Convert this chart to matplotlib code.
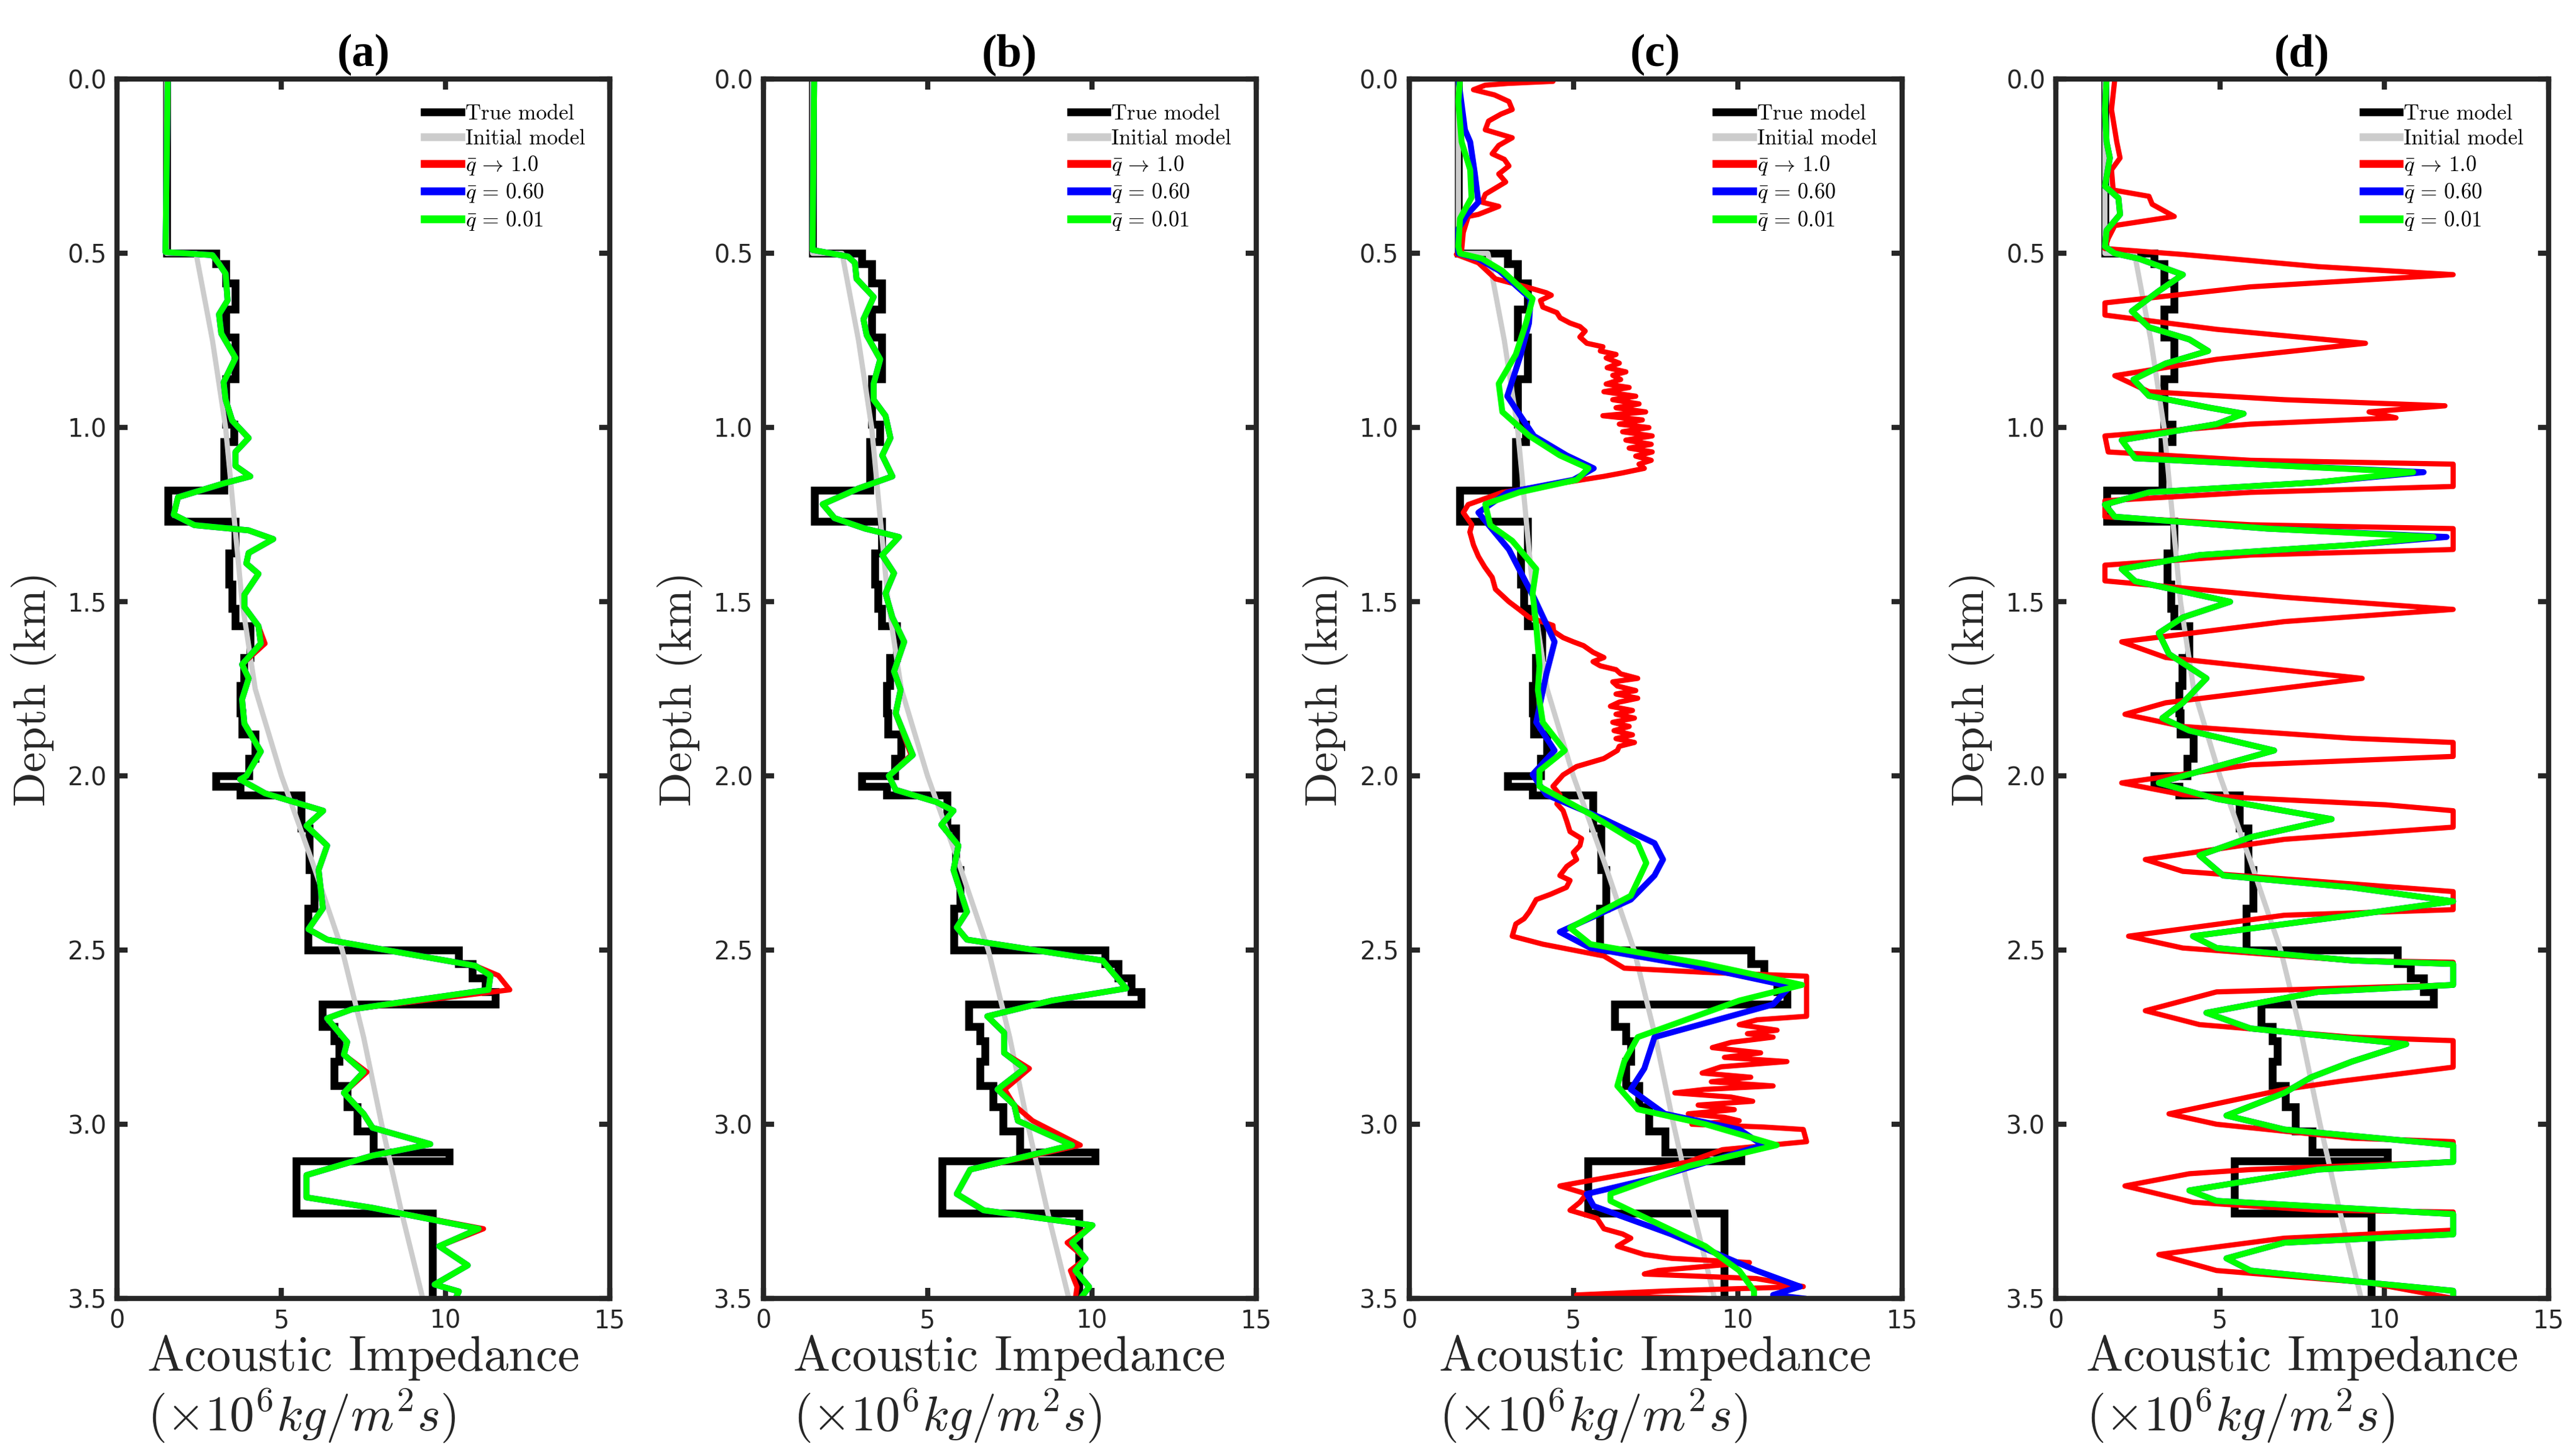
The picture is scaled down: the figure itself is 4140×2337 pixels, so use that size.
import matplotlib
matplotlib.use("Agg")
import matplotlib.pyplot as plt

# ---- data (depth in km, impedance in 1e6 kg/m^2 s) ----
TRUE_EDGES = [0, 0.5, 0.53, 0.585, 0.66, 0.74, 0.86, 0.99, 1.04, 1.18, 1.27, 1.36, 1.45,
              1.52, 1.57, 1.66, 1.74, 1.82, 1.88, 1.95, 2.0, 2.03, 2.055, 2.15, 2.27, 2.38,
              2.5, 2.54, 2.58, 2.62, 2.655, 2.72, 2.76, 2.82, 2.89, 2.95, 3.02, 3.08, 3.105,
              3.255, 3.5]
TRUE_AI = [1.5, 3.0, 3.3, 3.6, 3.3, 3.6, 3.3, 3.55, 3.25, 1.55, 3.6, 3.4, 3.5, 3.6, 4.05,
           3.85, 3.75, 3.8, 4.2, 4.0, 3.0, 3.75, 5.6, 5.85, 6.0, 5.8, 10.4, 10.8, 11.2, 11.5,
           6.25, 6.6, 6.75, 6.6, 7.0, 7.3, 7.8, 10.1, 5.45, 9.6]

INIT_D = [0, 0.5, 0.5, 0.75, 1.0, 1.25, 1.5, 1.75, 2.0, 2.25, 2.5, 2.75, 3.0, 3.25, 3.5]
INIT_V = [1.5, 1.5, 2.4, 2.9, 3.3, 3.55, 3.8, 4.2, 5.0, 5.95, 6.85, 7.5, 8.05, 8.65, 9.3]

# panel (a)
A_D = [0, 0.496, 0.505, 0.53, 0.558, 0.635, 0.675, 0.73, 0.80, 0.87, 0.92, 0.98, 1.03, 1.07,
       1.11, 1.14, 1.16, 1.20, 1.25, 1.28, 1.295, 1.32, 1.36, 1.39, 1.42, 1.48, 1.515, 1.57,
       1.62, 1.68, 1.72, 1.78, 1.85, 1.93, 2.0, 2.01, 2.05, 2.10, 2.143, 2.20, 2.27, 2.38,
       2.44, 2.47, 2.545, 2.573, 2.614, 2.67, 2.696, 2.764, 2.80, 2.85, 2.91, 2.97, 3.01,
       3.057, 3.09, 3.146, 3.21, 3.24, 3.30, 3.35, 3.405, 3.46, 3.48, 3.5]
A_GREEN = [1.54, 1.47, 2.9, 3.1, 3.3, 3.36, 3.1, 3.17, 3.6, 3.24, 3.3, 3.5, 4.0, 3.6, 3.6,
           4.05, 3.25, 1.85, 1.72, 2.35, 4.0, 4.75, 4.0, 3.93, 4.3, 3.87, 3.87, 4.3, 4.37,
           3.8, 4.0, 3.8, 3.87, 4.37, 3.93, 3.74, 4.5, 6.27, 5.76, 6.39, 6.13, 6.26, 5.82,
           6.39, 10.9, 11.36, 11.3, 7.14, 6.39, 7.0, 6.9, 7.5, 6.9, 7.5, 7.77, 9.53, 7.77,
           5.76, 5.76, 7.77, 11.0, 9.8, 10.67, 9.66, 10.4, 10.3]
A_RED = [1.54, 1.47, 2.9, 3.1, 3.3, 3.36, 3.1, 3.17, 3.6, 3.24, 3.3, 3.5, 4.0, 3.6, 3.6,
         4.05, 3.25, 1.85, 1.72, 2.35, 4.0, 4.75, 4.0, 3.93, 4.3, 3.87, 3.87, 4.3, 4.5,
         3.8, 4.0, 3.8, 3.87, 4.37, 3.93, 3.74, 4.5, 6.27, 5.76, 6.39, 6.13, 6.26, 5.82,
         6.39, 10.9, 11.6, 11.95, 7.14, 6.39, 7.0, 6.9, 7.6, 6.9, 7.5, 7.77, 9.53, 7.77,
         5.76, 5.76, 7.77, 11.15, 9.8, 10.67, 9.66, 10.4, 10.3]

# panel (b)
B_D = [0, 0.49, 0.509, 0.527, 0.573, 0.625, 0.689, 0.735, 0.804, 0.874, 0.92, 0.966, 1.03,
       1.08, 1.14, 1.175, 1.22, 1.26, 1.29, 1.314, 1.366, 1.418, 1.476, 1.545, 1.615, 1.70,
       1.753, 1.82, 1.94, 2.0, 2.04, 2.075, 2.1, 2.14, 2.2, 2.27, 2.39, 2.435, 2.47, 2.53,
       2.565, 2.61, 2.645, 2.69, 2.737, 2.795, 2.84, 2.9, 2.945, 2.99, 3.06, 3.13, 3.2,
       3.247, 3.29, 3.34, 3.386, 3.42, 3.467, 3.5]
B_GREEN = [1.55, 1.5, 2.58, 2.79, 2.84, 3.36, 3.05, 3.15, 3.56, 3.36, 3.36, 3.72, 3.87, 3.62,
           3.93, 2.89, 1.81, 2.17, 3.1, 4.13, 3.62, 3.98, 3.72, 3.93, 4.29, 3.98, 4.18, 4.03,
           4.55, 3.82, 4.03, 5.27, 5.79, 5.42, 5.94, 5.79, 6.2, 5.89, 6.2, 10.33, 10.64,
           11.05, 8.78, 6.82, 7.33, 7.33, 7.95, 7.13, 7.64, 7.75, 9.4, 6.3, 5.89, 6.71, 10.02,
           9.4, 9.81, 9.5, 9.92, 9.66]
B_RED = [1.55, 1.5, 2.58, 2.79, 2.84, 3.36, 3.05, 3.15, 3.56, 3.36, 3.36, 3.72, 3.87, 3.62,
         3.93, 2.89, 1.81, 2.17, 3.1, 4.13, 3.62, 3.98, 3.72, 3.93, 4.29, 3.98, 4.18, 4.03,
         4.5, 3.82, 4.03, 5.27, 5.79, 5.42, 5.94, 5.79, 6.2, 5.89, 6.2, 10.33, 10.64,
         11.05, 8.78, 6.82, 7.33, 7.33, 8.1, 7.35, 7.64, 8.2, 9.65, 6.3, 5.89, 6.71, 10.02,
         9.25, 9.81, 9.35, 9.55, 9.5]

# panel (c)
C_GREEN_D = [0, 0.064, 0.18, 0.26, 0.34, 0.40, 0.48, 0.50, 0.515, 0.55, 0.63, 0.70, 0.79,
             0.874, 0.955, 1.024, 1.08, 1.117, 1.15, 1.186, 1.22, 1.28, 1.325, 1.406, 1.476,
             1.568, 1.684, 1.753, 1.846, 1.927, 1.985, 2.03, 2.11, 2.193, 2.25, 2.344, 2.436,
             2.483, 2.54, 2.60, 2.645, 2.75, 2.82, 2.89, 2.957, 3.0, 3.06, 3.12, 3.2, 3.22,
             3.258, 3.35, 3.42, 3.478, 3.5]
C_GREEN = [1.55, 1.5, 1.6, 1.86, 1.9, 1.55, 1.5, 1.55, 2.22, 2.84, 3.76, 3.56, 3.25, 2.73,
           2.84, 3.66, 4.59, 5.46, 5.1, 3.35, 2.32, 2.47, 3.14, 3.87, 3.76, 3.87, 3.97, 3.92,
           4.07, 4.74, 3.97, 3.97, 5.52, 6.96, 7.22, 6.75, 4.9, 5.52, 9.02, 11.96, 10.05,
           6.96, 6.55, 6.34, 6.96, 9.02, 11.19, 8.5, 6.13, 6.13, 6.96, 9.02, 10.05, 10.5, 10.5]
C_BLUE_D = [0, 0.145, 0.18, 0.27, 0.353, 0.39, 0.43, 0.5, 0.515, 0.55, 0.63, 0.70, 0.79,
            0.91, 1.024, 1.08, 1.117, 1.15, 1.186, 1.244, 1.35, 1.49, 1.615, 1.707, 1.846,
            1.927, 1.996, 2.054, 2.124, 2.193, 2.24, 2.286, 2.355, 2.448, 2.494, 2.552, 2.604,
            2.656, 2.75, 2.84, 2.9, 2.97, 3.015, 3.06, 3.154, 3.2, 3.235, 3.316, 3.42, 3.466,
            3.49, 3.5]
C_BLUE = [1.5, 1.7, 1.86, 2.0, 2.11, 1.75, 1.5, 1.5, 2.1, 2.75, 3.7, 3.65, 3.4, 2.99, 3.8,
          4.8, 5.62, 5.0, 3.0, 2.11, 3.04, 3.81, 4.43, 4.18, 3.87, 4.43, 3.76, 4.18, 5.93,
          7.47, 7.73, 7.47, 6.75, 4.59, 5.52, 9.02, 11.6, 11.08, 7.47, 7.16, 6.75, 7.78,
          10.05, 10.77, 7.47, 5.41, 5.62, 7.99, 10.57, 11.9, 11.08, 12.0]
C_RED_D = [0.0, 0.006, 0.012, 0.017, 0.03, 0.045, 0.064, 0.087, 0.1, 0.12,
           0.145, 0.168, 0.19, 0.214, 0.23, 0.249, 0.272, 0.295, 0.33, 0.353,
           0.365, 0.388, 0.394, 0.44, 0.49, 0.503, 0.527, 0.573, 0.596, 0.613,
           0.62, 0.635, 0.654, 0.67, 0.685, 0.70, 0.71, 0.723, 0.74, 0.758,
           0.768, 0.78, 0.79, 0.80, 0.815, 0.828, 0.84, 0.85, 0.862, 0.875,
           0.885, 0.897, 0.91, 0.92, 0.932, 0.943, 0.955, 0.966, 0.978, 0.99,
           1.0, 1.012, 1.024, 1.036, 1.048, 1.059, 1.07, 1.082, 1.094, 1.105,
           1.117, 1.13, 1.14, 1.163, 1.186, 1.221, 1.244, 1.279, 1.3, 1.337,
           1.37, 1.4, 1.43, 1.464, 1.5, 1.522, 1.545, 1.568, 1.585, 1.603,
           1.615, 1.626, 1.645, 1.66, 1.672, 1.684, 1.695, 1.707, 1.72, 1.73,
           1.742, 1.755, 1.765, 1.777, 1.788, 1.8, 1.812, 1.823, 1.834, 1.846,
           1.858, 1.87, 1.882, 1.893, 1.904, 1.915, 1.927, 1.95, 1.973, 1.997,
           2.03, 2.054, 2.08, 2.1, 2.13, 2.16, 2.18, 2.2, 2.22, 2.24,
           2.26, 2.286, 2.3, 2.32, 2.34, 2.355, 2.39, 2.41, 2.425, 2.46,
           2.483, 2.5, 2.517, 2.552, 2.564, 2.575, 2.69, 2.70, 2.714, 2.73,
           2.74, 2.75, 2.765, 2.78, 2.795, 2.808, 2.82, 2.835, 2.853, 2.865,
           2.878, 2.89, 2.9, 2.91, 2.922, 2.934, 2.945, 2.958, 2.97, 2.98,
           2.99, 3.0, 3.008, 3.015, 3.05, 3.073, 3.108, 3.137, 3.177, 3.2,
           3.224, 3.247, 3.27, 3.3, 3.315, 3.327, 3.35, 3.374, 3.385, 3.397,
           3.42, 3.43, 3.443, 3.466, 3.478, 3.49, 3.5]
C_RED = [4.4, 4.38, 3.0, 2.32, 1.96, 2.6, 3.04, 3.14, 2.8, 2.42,
         2.32, 3.14, 2.73, 2.53, 2.9, 3.04, 2.73, 2.94, 2.32, 2.22,
         2.73, 2.11, 1.8, 1.65, 1.6, 1.44, 2.11, 2.63, 3.56, 4.18,
         4.33, 4.0, 4.07, 4.5, 4.6, 4.9, 5.2, 5.36, 5.2, 5.41,
         5.9, 5.82, 6.3, 6.0, 6.4, 6.03, 6.6, 6.2, 6.44, 6.0,
         6.7, 5.93, 6.9, 6.2, 7.0, 6.3, 7.2, 5.9, 7.1, 6.4,
         7.3, 6.5, 7.4, 6.6, 7.37, 6.7, 7.4, 6.9, 7.37, 7.0,
         7.16, 6.5, 5.93, 4.38, 2.84, 1.8, 1.65, 1.91, 1.85, 1.96,
         2.11, 2.3, 2.53, 2.63, 3.04, 3.35, 3.66, 4.38, 4.4, 4.69,
         5.0, 5.31, 5.6, 5.93, 5.6, 5.82, 6.3, 6.44, 6.96, 6.2,
         6.34, 6.9, 6.3, 6.96, 6.4, 6.13, 6.8, 6.3, 6.86, 6.2,
         6.7, 6.24, 6.8, 6.3, 6.86, 6.4, 6.34, 5.93, 5.1, 4.69,
         4.38, 4.59, 4.5, 4.69, 4.8, 4.9, 5.25, 5.2, 5.0, 5.1,
         4.8, 4.59, 4.9, 4.79, 4.3, 3.87, 3.66, 3.5, 3.25, 3.14,
         4.07, 5.0, 5.93, 6.55, 9.02, 12.1, 12.1, 10.6, 10.05, 11.2,
         10.3, 11.08, 9.8, 9.23, 10.7, 9.6, 11.5, 9.5, 8.92, 10.4,
         9.2, 11.08, 9.0, 8.09, 9.8, 10.46, 8.8, 9.9, 8.5, 9.6,
         10.05, 8.61, 10.8, 12.0, 12.1, 9.54, 8.5, 6.96, 4.59, 5.4,
         5.2, 4.9, 5.72, 5.93, 6.5, 6.75, 6.34, 7.16, 7.99, 10.36,
         7.58, 7.16, 10.57, 12.0, 7.99, 5.1, 9.0]

# panel (d)
D_GREEN_D = [0, 0.087, 0.18, 0.226, 0.307, 0.341, 0.388, 0.434, 0.48, 0.50, 0.515, 0.561,
             0.608, 0.666, 0.712, 0.747, 0.78, 0.816, 0.862, 0.909, 0.943, 0.96, 0.99, 1.036,
             1.088, 1.105, 1.128, 1.157, 1.186, 1.221, 1.256, 1.29, 1.314, 1.337, 1.366,
             1.406, 1.441, 1.5, 1.545, 1.59, 1.65, 1.72, 1.79, 1.834, 1.87, 1.927, 1.973,
             2.02, 2.066, 2.124, 2.176, 2.228, 2.286, 2.32, 2.36, 2.4, 2.46, 2.494, 2.53,
             2.54, 2.6, 2.62, 2.68, 2.725, 2.77, 2.82, 2.865, 2.91, 2.975, 3.015, 3.06, 3.108,
             3.13, 3.19, 3.22, 3.258, 3.316, 3.34, 3.385, 3.42, 3.455, 3.478, 3.5]
D_GREEN = [1.55, 1.5, 1.55, 1.65, 1.5, 1.91, 1.96, 1.55, 1.5, 1.8, 2.53, 3.87, 3.14, 2.32,
           2.84, 4.07, 4.64, 3.35, 2.37, 2.84, 4.69, 5.72, 4.9, 2.01, 2.42, 5.93, 10.88,
           7.99, 2.84, 1.5, 1.8, 6.44, 11.5, 9.02, 4.38, 2.01, 2.42, 5.31, 3.87, 3.14, 3.45,
           4.59, 3.87, 3.25, 4.07, 6.65, 4.9, 3.14, 4.9, 8.4, 5.93, 4.38, 5.1, 9.02, 12.1,
           9.02, 4.18, 4.9, 9.02, 12.1, 12.1, 7.99, 4.59, 5.93, 10.67, 9.02, 7.78, 6.96, 5.2,
           6.96, 12.1, 12.1, 7.99, 4.07, 4.9, 12.1, 12.1, 6.96, 5.2, 5.93, 9.54, 12.1, 12.1]
D_BLUE = [1.55, 1.5, 1.55, 1.65, 1.5, 1.91, 1.96, 1.55, 1.5, 1.8, 2.53, 3.87, 3.14, 2.32,
          2.84, 4.07, 4.64, 3.35, 2.37, 2.84, 4.69, 5.72, 4.9, 2.01, 2.42, 5.93, 11.2,
          7.99, 2.84, 1.5, 1.8, 6.44, 11.9, 9.02, 4.38, 2.01, 2.42, 5.31, 3.87, 3.14, 3.45,
          4.59, 3.87, 3.25, 4.07, 6.65, 4.9, 3.14, 4.9, 8.4, 5.93, 4.38, 5.1, 9.02, 12.1,
          9.02, 4.18, 4.9, 9.02, 12.1, 12.1, 7.99, 4.59, 5.93, 10.67, 9.02, 7.78, 6.96, 5.2,
          6.96, 12.1, 12.1, 7.99, 4.07, 4.9, 12.1, 12.1, 6.96, 5.2, 5.93, 9.54, 12.1, 12.1]
D_RED_D = [0, 0.087, 0.18, 0.226, 0.26, 0.318, 0.336, 0.359, 0.394, 0.42, 0.457, 0.486,
           0.503, 0.538, 0.561, 0.596, 0.642, 0.677, 0.718, 0.758, 0.804, 0.851, 0.897, 0.92,
           0.9375, 0.955, 0.972, 0.99, 1.024, 1.07, 1.094, 1.105, 1.169, 1.186, 1.21, 1.256,
           1.279, 1.29, 1.35, 1.366, 1.395, 1.44, 1.487, 1.522, 1.557, 1.615, 1.66, 1.72,
           1.79, 1.823, 1.858, 1.892, 1.904, 1.944, 1.968, 2.02, 2.054, 2.083, 2.1, 2.147,
           2.182, 2.24, 2.274, 2.31, 2.332, 2.384, 2.4, 2.46, 2.494, 2.53, 2.535, 2.6, 2.62,
           2.674, 2.714, 2.75, 2.76, 2.836, 2.876, 2.9, 2.97, 3.0, 3.04, 3.05, 3.108, 3.13,
           3.142, 3.177, 3.224, 3.247, 3.252, 3.304, 3.327, 3.374, 3.42, 3.455, 3.5]
D_RED = [1.8, 1.7, 1.86, 1.96, 1.7, 1.75, 2.84, 2.94, 3.61, 1.8, 1.6, 1.5, 3.87, 7.99, 12.1,
         5.93, 1.5, 1.5, 4.9, 9.43, 4.9, 1.8, 2.84, 6.96, 11.85, 9.54, 10.36, 5.93, 1.5, 1.6,
         5.93, 12.1, 12.1, 5.93, 1.5, 1.5, 5.93, 12.1, 12.1, 5.93, 1.5, 1.5, 6.96, 12.1,
         6.96, 2.01, 3.35, 9.33, 3.35, 2.11, 3.87, 9.02, 12.1, 12.1, 5.93, 2.01, 3.87, 10.05,
         12.1, 12.1, 6.96, 2.73, 3.87, 9.02, 12.1, 12.1, 6.96, 2.22, 3.87, 9.02, 12.1, 12.1,
         4.9, 2.73, 4.38, 9.02, 12.1, 12.1, 8.71, 6.96, 3.45, 4.9, 9.02, 12.1, 12.1, 5.93,
         4.07, 2.11, 4.18, 7.99, 12.1, 12.1, 6.96, 3.14, 4.9, 9.54, 12.1]

PANELS = [
    ('(a)', (A_D, A_RED), (A_D, A_GREEN), (A_D, A_GREEN)),
    ('(b)', (B_D, B_RED), (B_D, B_GREEN), (B_D, B_GREEN)),
    ('(c)', (C_RED_D, C_RED), (C_BLUE_D, C_BLUE), (C_GREEN_D, C_GREEN)),
    ('(d)', (D_RED_D, D_RED), (D_GREEN_D, D_BLUE), (D_GREEN_D, D_GREEN)),
]
LABELS = ['True model', 'Initial model', r'$\bar{q}\,\rightarrow\,1.0$',
          r'$\bar{q}\,=\,0.60$', r'$\bar{q}\,=\,0.01$']

plt.rcParams['font.family'] = 'cmr10'
plt.rcParams['mathtext.fontset'] = 'cm'
plt.rcParams['axes.unicode_minus'] = False

DARK = '#262626'
fig = plt.figure(figsize=(13.8, 7.79), dpi=300)
lefts = [0.0455, 0.2963, 0.547, 0.798]

for left, (title, red, blue, green) in zip(lefts, PANELS):
    ax = fig.add_axes([left, 0.107, 0.1913, 0.8385])
    ax.stairs(TRUE_AI, TRUE_EDGES, orientation='horizontal', baseline=None,
              color='black', lw=3.0, label=LABELS[0])
    ax.plot(INIT_V, INIT_D, color='#cccccc', lw=2.0, label=LABELS[1])
    ax.plot(red[1], red[0], color='#ff0000', lw=2.0, label=LABELS[2])
    ax.plot(blue[1], blue[0], color='#0000ff', lw=2.3, label=LABELS[3])
    ax.plot(green[1], green[0], color='#00ff00', lw=2.3, label=LABELS[4])

    ax.set_xlim(0, 15)
    ax.set_ylim(3.5, 0)
    ax.set_xticks([0, 5, 10, 15])
    ax.set_yticks([0, 0.5, 1.0, 1.5, 2.0, 2.5, 3.0, 3.5])
    ax.yaxis.set_major_formatter('{x:.1f}')
    ax.tick_params(direction='in', top=True, right=True, length=4, width=2,
                   labelsize=9.5, colors=DARK, labelfontfamily='DejaVu Sans', pad=4)
    for sp in ax.spines.values():
        sp.set_linewidth(2.0)
        sp.set_color(DARK)

    ax.set_title(title, fontsize=17.5, fontweight='bold', family='Liberation Serif',
                 pad=5, color='black')
    ax.set_ylabel('Depth (km)', fontsize=17.5, color=DARK, labelpad=4)
    ax.set_xlabel('Acoustic Impedance\n' + r'$(\times 10^6 kg/m^2 s)$', fontsize=19,
                  color=DARK, multialignment='left', labelpad=0.5, linespacing=1.15)

    leg = ax.legend(loc='upper right', fontsize=8.3, frameon=False, handlelength=1.7,
                    handletextpad=0.2, labelspacing=0.25, borderaxespad=0.75)
    for h in leg.legend_handles:
        h.set_linewidth(3.0)

fig.savefig('out.png', dpi=300)
